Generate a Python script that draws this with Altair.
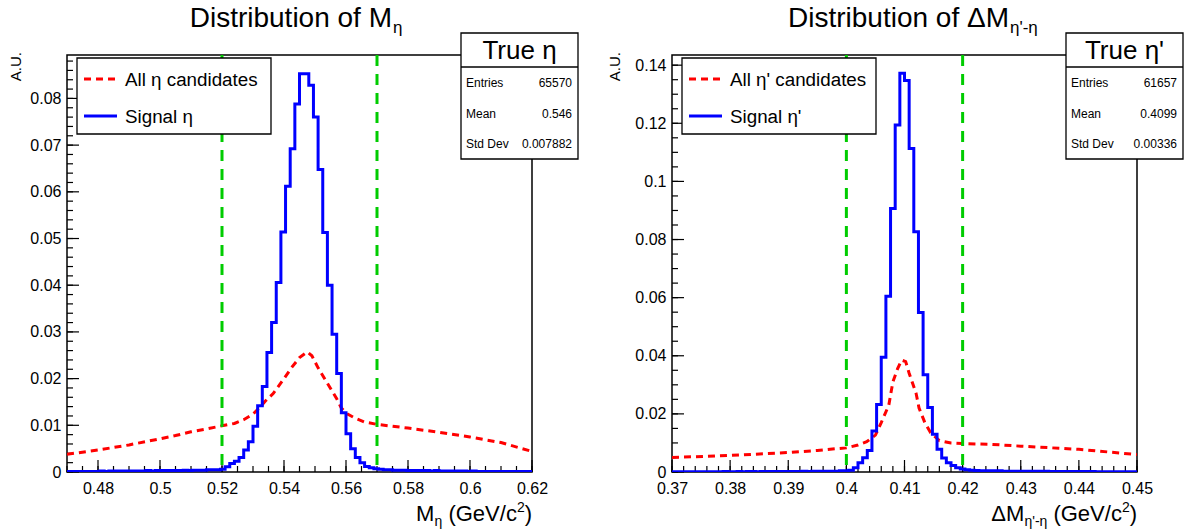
import altair as alt
import pandas as pd
import numpy as np

FONT = "Liberation Sans"
RED, BLUE, GREEN = "#ff0000", "#0000ff", "#00cc00"
W, H = 465, 417

# ---------------- left panel data ----------------
L_XMIN, L_XMAX, L_BINW, L_YMAX = 0.47, 0.62, 0.0015, 0.0893
L_SIGNAL = [
    0.0001, 0.0001, 0.0001, 0.0001, 0.0001, 0.0001, 0.0001, 0.0002, 0.0001, 0.0002,
    0.0002, 0.0002, 0.0002, 0.0002, 0.0002, 0.0002, 0.0002, 0.0003, 0.0002, 0.0003,
    0.0003, 0.0003, 0.0003, 0.0003, 0.0003, 0.0004, 0.0003, 0.0004, 0.0004, 0.0004,
    0.0005, 0.0005, 0.0005, 0.0006, 0.0011, 0.0018, 0.0023, 0.0031, 0.0047, 0.0065,
    0.0098, 0.0142, 0.0183, 0.0256, 0.0320, 0.0406, 0.0514, 0.0612, 0.0692, 0.0788,
    0.0853, 0.0853, 0.0828, 0.0760, 0.0648, 0.0513, 0.0400, 0.0295, 0.0211, 0.0127,
    0.0082, 0.0050, 0.0031, 0.0020, 0.0012, 0.0009, 0.0007, 0.0006, 0.0005, 0.0005,
    0.0004, 0.0004, 0.0004, 0.0003, 0.0003, 0.0003, 0.0003, 0.0003, 0.0002, 0.0003,
    0.0002, 0.0002, 0.0002, 0.0002, 0.0002, 0.0002, 0.0001, 0.0002, 0.0001, 0.0001,
    0.0001, 0.0001, 0.0001, 0.0001, 0.0001, 0.0001, 0.0001, 0.0001, 0.0001, 0.0001,
]
L_ALL_X = [0.470, 0.480, 0.490, 0.500, 0.505, 0.510, 0.515, 0.520, 0.524, 0.527,
           0.530, 0.532, 0.534, 0.5365, 0.540, 0.5425, 0.545, 0.5475, 0.549, 0.551,
           0.554, 0.557, 0.5585, 0.5605, 0.563, 0.566, 0.570, 0.580, 0.590, 0.600,
           0.610, 0.620]
L_ALL_Y = [0.0038, 0.0047, 0.0058, 0.0071, 0.0078, 0.0086, 0.0092, 0.0099, 0.0104, 0.0112,
           0.0124, 0.0137, 0.0152, 0.0168, 0.0200, 0.0224, 0.0245, 0.0257, 0.0249, 0.0223,
           0.0190, 0.0157, 0.0137, 0.0124, 0.0115, 0.0107, 0.0102, 0.0094, 0.0085, 0.0075,
           0.0063, 0.0044]
L_CUTS = [0.52, 0.57]
L_XMAJOR = [0.48, 0.50, 0.52, 0.54, 0.56, 0.58, 0.60, 0.62]
L_YMAJOR = [0.0, 0.01, 0.02, 0.03, 0.04, 0.05, 0.06, 0.07, 0.08]
L_XMINOR_STEP, L_YMINOR_STEP = 0.005, 0.002
L_STATS = ["65570", "0.546", "0.007882"]

# ---------------- right panel data ----------------
R_XMIN, R_XMAX, R_BINW, R_YMAX = 0.37, 0.45, 0.0008, 0.1435
R_SIGNAL = [
    0.0001, 0.0001, 0.0001, 0.0001, 0.0001, 0.0001, 0.0001, 0.0001, 0.0001, 0.0001,
    0.0001, 0.0002, 0.0001, 0.0001, 0.0002, 0.0001, 0.0002, 0.0002, 0.0001, 0.0002,
    0.0002, 0.0002, 0.0002, 0.0002, 0.0002, 0.0002, 0.0002, 0.0002, 0.0003, 0.0002,
    0.0003, 0.0003, 0.0003, 0.0003, 0.0003, 0.0003, 0.0004, 0.0004, 0.0006, 0.0015,
    0.0032, 0.0049, 0.0074, 0.0141, 0.0232, 0.0395, 0.0605, 0.0907, 0.1194, 0.1372,
    0.1347, 0.1113, 0.0827, 0.0549, 0.0335, 0.0222, 0.0130, 0.0078, 0.0048, 0.0032,
    0.0022, 0.0015, 0.0010, 0.0008, 0.0006, 0.0005, 0.0004, 0.0004, 0.0004, 0.0004,
    0.0004, 0.0003, 0.0003, 0.0003, 0.0003, 0.0003, 0.0003, 0.0003, 0.0003, 0.0003,
    0.0003, 0.0002, 0.0002, 0.0002, 0.0002, 0.0002, 0.0002, 0.0002, 0.0002, 0.0002,
    0.0002, 0.0001, 0.0001, 0.0001, 0.0001, 0.0001, 0.0001, 0.0001, 0.0001, 0.0001,
]
R_ALL_X = [0.370, 0.380, 0.390, 0.395, 0.398, 0.400, 0.402, 0.4035, 0.405, 0.406,
           0.4073, 0.408, 0.4088, 0.4095, 0.4102, 0.4108, 0.412, 0.4125, 0.4135, 0.4145,
           0.416, 0.418, 0.420, 0.425, 0.430, 0.440, 0.450]
R_ALL_Y = [0.0050, 0.0057, 0.0067, 0.0074, 0.0080, 0.0083, 0.0093, 0.0104, 0.0127, 0.0170,
           0.0230, 0.0310, 0.0355, 0.0385, 0.0380, 0.0340, 0.0270, 0.0220, 0.0170, 0.0135,
           0.0108, 0.0100, 0.0098, 0.0095, 0.0089, 0.0078, 0.0060]
R_CUTS = [0.40, 0.42]
R_XMAJOR = [0.37, 0.38, 0.39, 0.40, 0.41, 0.42, 0.43, 0.44, 0.45]
R_YMAJOR = [0.0, 0.02, 0.04, 0.06, 0.08, 0.10, 0.12, 0.14]
R_XMINOR_STEP, R_YMINOR_STEP = 0.002, 0.005
R_STATS = ["61657", "0.4099", "0.00336"]

ONE = pd.DataFrame({"d": [0]})


def txt(s, x, y, size, align="left", baseline="alphabetic", angle=0):
    return alt.Chart(ONE).mark_text(
        text=s, align=align, baseline=baseline, fontSize=size, font=FONT,
        color="black", angle=angle
    ).encode(x=alt.value(x), y=alt.value(y))


def box(x1, x2, y1, y2, sw=1.3):
    return alt.Chart(ONE).mark_rect(fill="white", stroke="black", strokeWidth=sw).encode(
        x=alt.value(x1), x2=alt.value(x2), y=alt.value(y1), y2=alt.value(y2))


def seg(x1, x2, y1, y2, color="black", width=1.3, dash=None):
    kw = dict(color=color, strokeWidth=width)
    if dash is not None:
        kw["strokeDash"] = dash
    return alt.Chart(ONE).mark_rule(**kw).encode(
        x=alt.value(x1), x2=alt.value(x2), y=alt.value(y1), y2=alt.value(y2))


def panel(xmin, xmax, binw, ymax, signal, all_x, all_y, cuts, xmajor, ymajor,
          xminor_step, yminor_step, stats, header, leg_labels, leg_right,
          title_main, title_sub, title_end,
          ax_main, ax_sub, ax_sub_w, au_x, anchor):
    X = alt.X("x:Q", scale=alt.Scale(domain=[xmin, xmax], nice=False, zero=False),
              axis=alt.Axis(values=xmajor, format="~g", ticks=False, domain=False, grid=False,
                            labelFont=FONT, labelFontSize=16, labelColor="black",
                            labelPadding=8, labelFlush=False, labelOverlap=False,
                            labelBound=False, title=None))
    Y = alt.Y("y:Q", scale=alt.Scale(domain=[0, ymax], nice=False, zero=False),
              axis=alt.Axis(values=ymajor, format="~g", ticks=False, domain=False, grid=False,
                            labelFont=FONT, labelFontSize=16, labelColor="black",
                            labelPadding=6, labelFlush=False, labelOverlap=False,
                            labelBound=False, title=None))

    n = len(signal)
    edges = [xmin + k * binw for k in range(n + 1)]
    sig_df = pd.DataFrame({"x": edges, "y": list(signal) + [signal[-1]]})
    all_df = pd.DataFrame({"x": all_x, "y": all_y})

    layers = []
    if anchor:
        layers.append(alt.Chart(ONE).mark_rect(opacity=0).encode(
            x=alt.value(-66), x2=alt.value(0), y=alt.value(-54), y2=alt.value(0)))

    # ticks (inside the frame)
    xminor = np.round(np.arange(xmin, xmax + 1e-9, xminor_step), 4)
    yminor = np.round(np.arange(0, ymax, yminor_step), 4)
    layers.append(alt.Chart(pd.DataFrame({"x": xminor})).mark_rule(color="black", strokeWidth=1.2)
                  .encode(x=X, y=alt.value(H), y2=alt.value(H - 6)))
    layers.append(alt.Chart(pd.DataFrame({"x": xmajor})).mark_rule(color="black", strokeWidth=1.2)
                  .encode(x=X, y=alt.value(H), y2=alt.value(H - 12)))
    layers.append(alt.Chart(pd.DataFrame({"y": yminor})).mark_rule(color="black", strokeWidth=1.2)
                  .encode(y=Y, x=alt.value(0), x2=alt.value(6)))
    layers.append(alt.Chart(pd.DataFrame({"y": ymajor})).mark_rule(color="black", strokeWidth=1.2)
                  .encode(y=Y, x=alt.value(0), x2=alt.value(12)))

    # histograms
    layers.append(alt.Chart(all_df).mark_line(color=RED, strokeWidth=3, strokeDash=[7, 5], clip=True)
                  .encode(x=X, y=Y))
    layers.append(alt.Chart(sig_df).mark_line(color=BLUE, strokeWidth=3, interpolate="step-after",
                                               clip=True).encode(x=X, y=Y))
    # cut lines
    layers.append(alt.Chart(pd.DataFrame({"x": cuts})).mark_rule(color=GREEN, strokeWidth=3,
                                                                  strokeDash=[11, 8]).encode(x=X))

    # legend
    layers.append(box(10, leg_right, 3, 79))
    layers.append(seg(17, 50, 24, 24, color=RED, width=3, dash=[7, 5]))
    layers.append(seg(17, 50, 61, 61, color=BLUE, width=3))
    layers.append(txt(leg_labels[0], 58, 25, 18.8, baseline="middle"))
    layers.append(txt(leg_labels[1], 58, 62, 18.8, baseline="middle"))

    # stats box
    layers.append(box(394, 511, -22, 104))
    layers.append(seg(394, 511, 12, 12))
    layers.append(txt(header, 452.5, -4, 26, align="center", baseline="middle"))
    for i, (lab, val) in enumerate(zip(["Entries", "Mean", "Std Dev"], stats)):
        yy = [28, 59, 89][i]
        layers.append(txt(lab, 399, yy, 12, baseline="middle"))
        layers.append(txt(val, 505, yy, 12, align="right", baseline="middle"))

    # titles
    layers.append(txt(title_main, title_end, -28, 28, align="right"))
    layers.append(txt(title_sub, title_end + 1, -22, 17))
    # x-axis title: main + sub + (GeV/c^2)
    rp = W
    layers.append(txt(")", rp, 466, 22, align="right"))
    layers.append(txt("2", rp - 7.3, 457, 14, align="right"))
    layers.append(txt("(GeV/c", rp - 15.1, 466, 22, align="right"))
    sub_right = rp - 15.1 - 68.5 - 6
    layers.append(txt(ax_sub, sub_right, 471, 14, align="right"))
    layers.append(txt(ax_main, sub_right - ax_sub_w, 466, 22, align="right"))
    # y-axis title
    layers.append(txt("A.U.", au_x, -3, 15, align="right", baseline="middle", angle=270))

    return alt.layer(*layers).properties(width=W, height=H)


left = panel(L_XMIN, L_XMAX, L_BINW, L_YMAX, L_SIGNAL, L_ALL_X, L_ALL_Y, L_CUTS, L_XMAJOR,
             L_YMAJOR, L_XMINOR_STEP, L_YMINOR_STEP, L_STATS, "True η",
             ["All η candidates", "Signal η"], 204,
             "Distribution of M", "η", 325,
             "M", "η", 8, -51, True)
right = panel(R_XMIN, R_XMAX, R_BINW, R_YMAX, R_SIGNAL, R_ALL_X, R_ALL_Y, R_CUTS, R_XMAJOR,
              R_YMAJOR, R_XMINOR_STEP, R_YMINOR_STEP, R_STATS, "True η'",
              ["All η' candidates", "Signal η'"], 204,
              "Distribution of ΔM", "η'-η", 337,
              "ΔM", "η'-η", 23, -57, False)

chart = alt.hconcat(left, right, spacing=140, bounds="flush").properties(
    padding={"left": 0, "top": 0, "right": 0, "bottom": 0},
    background="white",
).configure_view(stroke="black", strokeWidth=1.5)

chart.save("out.html", embed_options={"renderer": "svg", "actions": False})
